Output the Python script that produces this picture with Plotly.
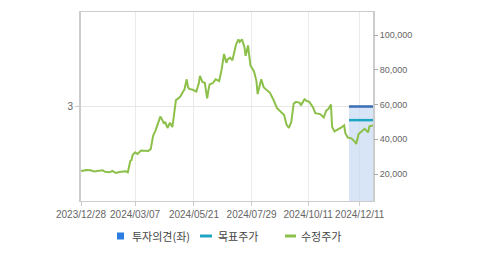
import plotly.graph_objects as go

# ---- data ----
price_dates = [
    "2023-12-28", "2024-01-02", "2024-01-05", "2024-01-11", "2024-01-16", "2024-01-22",
    "2024-01-25", "2024-01-29", "2024-02-02", "2024-02-06", "2024-02-08", "2024-02-13",
    "2024-02-16", "2024-02-20", "2024-02-23", "2024-02-27", "2024-02-29", "2024-03-04",
    "2024-03-05", "2024-03-07", "2024-03-11", "2024-03-14", "2024-03-18", "2024-03-22",
    "2024-03-26", "2024-03-28", "2024-04-01", "2024-04-03", "2024-04-04", "2024-04-05",
    "2024-04-08", "2024-04-11", "2024-04-12", "2024-04-16", "2024-04-18", "2024-04-22",
    "2024-04-23", "2024-04-25", "2024-04-29", "2024-05-02", "2024-05-07", "2024-05-08",
    "2024-05-10", "2024-05-13", "2024-05-14", "2024-05-20", "2024-05-23", "2024-05-27",
    "2024-05-28", "2024-05-30", "2024-06-03", "2024-06-05", "2024-06-07", "2024-06-10",
    "2024-06-13", "2024-06-17", "2024-06-20", "2024-06-24", "2024-06-26", "2024-06-28",
    "2024-07-01", "2024-07-03", "2024-07-05", "2024-07-08", "2024-07-10", "2024-07-12",
    "2024-07-15", "2024-07-17", "2024-07-19", "2024-07-22", "2024-07-24", "2024-07-26",
    "2024-07-31", "2024-08-02", "2024-08-05", "2024-08-08", "2024-08-12", "2024-08-16",
    "2024-08-20", "2024-08-23", "2024-08-28", "2024-09-02", "2024-09-05", "2024-09-09",
    "2024-09-11", "2024-09-13", "2024-09-19", "2024-09-20", "2024-09-24", "2024-09-27",
    "2024-09-30", "2024-10-02", "2024-10-07", "2024-10-10", "2024-10-14", "2024-10-17",
    "2024-10-21", "2024-10-25", "2024-10-30", "2024-11-01", "2024-11-05", "2024-11-07",
    "2024-11-08", "2024-11-12", "2024-11-15", "2024-11-19", "2024-11-22", "2024-11-25",
    "2024-11-27", "2024-12-02", "2024-12-05", "2024-12-06", "2024-12-10", "2024-12-13",
    "2024-12-17", "2024-12-20", "2024-12-23", "2024-12-27",
]
adj_price = [
    22000, 21800, 22300, 22200, 21500, 21800,
    22200, 21300, 21000, 21800, 20800, 20600,
    21200, 21500, 21600, 21000, 27500, 28000,
    31000, 32500, 31500, 33500, 33500, 33300,
    34300, 42000, 45000, 49000, 51000, 53000,
    52000, 49000, 50000, 46500, 49500, 47000,
    52000, 62500, 63500, 65000, 67500, 68500,
    74500, 70000, 69000, 68500, 67500, 72000,
    76500, 73000, 72500, 63500, 68000, 71500,
    72500, 74500, 73500, 80000, 89000, 84000,
    86000, 87000, 85500, 89000, 94500, 97500,
    96000, 97500, 93000, 88000, 94000, 82500,
    79000, 73500, 66000, 74500, 70000, 68000,
    67000, 63000, 58000, 56000, 54000, 48500,
    46500, 50000, 56000, 60500, 61500, 61000,
    59500, 61000, 63000, 62000, 61500, 58500,
    55000, 54500, 52500, 56500, 57500, 60000,
    47000, 44500, 45500, 46500, 48000, 43500,
    41000, 40500, 38500, 37300, 43000, 45000,
    46000, 44000, 47500, 48000,
]

opinion_dates = ["2024-11-28", "2024-12-27"]
opinion_level = [3, 3]

target_dates = ["2024-11-28", "2024-12-27"]
target_price = [51000, 51000]

# market holidays (axis shows trading days only)
market_holidays = [
    "2023-12-29", "2024-01-01", "2024-02-09", "2024-02-12", "2024-03-01", "2024-04-10",
    "2024-05-01", "2024-05-06", "2024-05-15", "2024-06-06", "2024-08-15", "2024-09-16",
    "2024-09-17", "2024-09-18", "2024-10-01", "2024-10-03", "2024-10-09", "2024-12-25",
]

tick_dates = ["2023-12-28", "2024-03-07", "2024-05-21", "2024-07-29", "2024-10-11", "2024-12-11"]
tick_text = [d.replace("-", "/") for d in tick_dates]
price_ticks = [20000, 40000, 60000, 80000, 100000]
price_tick_text = ["20,000", "40,000", "60,000", "80,000", "100,000"]

legend_names = ["투자의견(좌)", "목표주가", "수정주가"]
legend_colors = ["#2b7de1", "#1fa5c4", "#8dc04a"]

FONT = "Liberation Sans, Noto Sans CJK KR, sans-serif"
KFONT = "Noto Sans CJK KR, Liberation Sans, sans-serif"

# plot area in pixels (for placing the hand-made legend)
W, H = 479, 255
L, R, T, B = 81, 106, 12, 54
PW, PH = W - L - R, H - T - B


def px(x):
    return (x - L) / PW


def py(y):
    return (H - B - y) / PH


fig = go.Figure()

# opinion (left axis) as shaded block with top line
fig.add_trace(go.Scatter(
    x=opinion_dates, y=opinion_level, yaxis="y", mode="lines",
    line=dict(color="#3b6db5", width=2.5), fill="tozeroy",
    fillcolor="rgba(200,218,243,0.7)", name=legend_names[0], hoverinfo="x+y",
))
fig.add_trace(go.Scatter(
    x=target_dates, y=target_price, yaxis="y2", mode="lines",
    line=dict(color=legend_colors[1], width=2.5), name=legend_names[1],
))
fig.add_trace(go.Scatter(
    x=price_dates, y=adj_price, yaxis="y2", mode="lines",
    line=dict(color=legend_colors[2], width=2), name=legend_names[2],
))

# legend drawn by hand to match the compact layout
ly = 236
sym_x = [(117, 124), (200, 212), (285, 296)]
txt_x = [130, 216, 299]
shapes = []
annotations = []
for i, name in enumerate(legend_names):
    x0, x1 = sym_x[i]
    if i == 0:
        shapes.append(dict(type="rect", xref="paper", yref="paper",
                           x0=px(x0), x1=px(x1), y0=py(ly + 3.5), y1=py(ly - 3.5),
                           fillcolor=legend_colors[i], line=dict(width=0)))
    else:
        shapes.append(dict(type="line", xref="paper", yref="paper",
                           x0=px(x0), x1=px(x1), y0=py(ly), y1=py(ly),
                           line=dict(color=legend_colors[i], width=3)))
    annotations.append(dict(text=name, xref="paper", yref="paper",
                            x=px(txt_x[i]), y=py(ly), xanchor="left", yanchor="middle",
                            showarrow=False, font=dict(family=KFONT, size=11, color="#444")))

fig.update_layout(
    width=W, height=H,
    margin=dict(l=L, r=R, t=T, b=B),
    paper_bgcolor="white", plot_bgcolor="white",
    font=dict(family=FONT, size=10, color="#666"),
    showlegend=False,
    shapes=shapes, annotations=annotations,
    xaxis=dict(
        type="date", range=["2023-12-28", "2024-12-27"],
        rangebreaks=[dict(bounds=["sat", "mon"]), dict(values=market_holidays)],
        tickvals=tick_dates, ticktext=tick_text, tickangle=0,
        showgrid=True, gridcolor="#ebebeb", gridwidth=1,
        showline=True, linecolor="#cccccc", linewidth=1, mirror=True,
        ticks="outside", ticklen=4, tickcolor="#cccccc",
        tickfont=dict(size=10, color="#666"), zeroline=False,
    ),
    yaxis=dict(
        range=[1, 5], tickvals=[3], ticktext=["3"],
        showgrid=True, gridcolor="#e6e6e6",
        showline=True, linecolor="#cccccc", linewidth=2, mirror=True,
        ticks="outside", ticklen=4, tickcolor="#cccccc",
        tickfont=dict(size=10, color="#666"), zeroline=False,
    ),
    yaxis2=dict(
        overlaying="y", side="right", range=[4460, 113240],
        tickvals=price_ticks, ticktext=price_tick_text,
        showgrid=False, showline=False, zeroline=False,
        ticks="outside", ticklen=4, tickcolor="#aaaaaa",
        tickfont=dict(size=9, color="#666"),
    ),
)

fig.write_html("out.html")
